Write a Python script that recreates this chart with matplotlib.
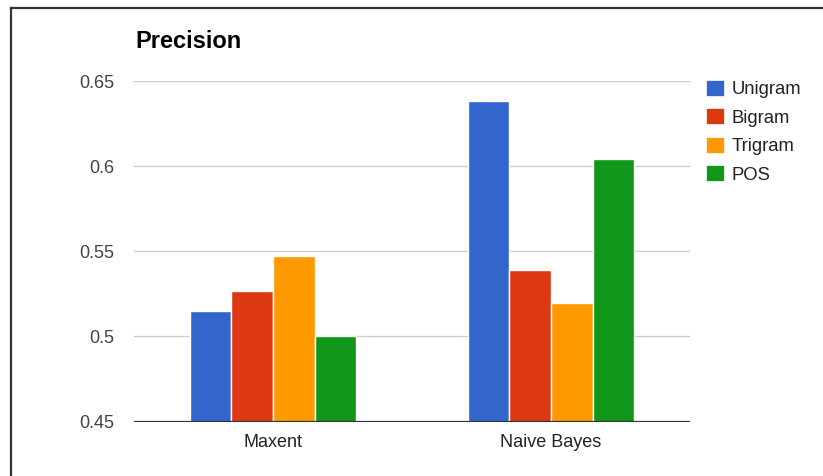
import matplotlib.pyplot as plt
import numpy as np
from matplotlib.lines import Line2D
from matplotlib.patches import Patch

plt.rcParams['font.family'] = ['Liberation Sans', 'DejaVu Sans']

categories = ['Maxent', 'Naive Bayes']
series = ['Unigram', 'Bigram', 'Trigram', 'POS']
colors = ['#3366cc', '#dc3912', '#ff9900', '#109618']
unigram = [0.515, 0.638]
bigram = [0.5265, 0.5388]
trigram = [0.5475, 0.5198]
pos = [0.5, 0.604]
yticks = [0.45, 0.5, 0.55, 0.6, 0.65]
ytick_labels = ['0.45', '0.5', '0.55', '0.6', '0.65']

W, H = 823, 476
fig = plt.figure(figsize=(W / 100, H / 100), dpi=100)
ax = fig.add_axes([134 / W, 1 - 421.5 / H, 556 / W, (421.5 - 81) / H])

xs = np.arange(len(categories))
bw = 0.15
values = [unigram, bigram, trigram, pos]
for i, (vals, c) in enumerate(zip(values, colors)):
    ax.bar(xs + (i - 1.5) * bw, np.array(vals) - 0.45, bw, bottom=0.45,
           color=c, edgecolor='white', linewidth=1, zorder=3)

ax.set_xlim(-0.5, 1.5)
ax.set_ylim(0.45, 0.65)
ax.set_yticks(yticks)
ax.set_yticklabels(ytick_labels)
ax.set_xticks(xs)
ax.set_xticklabels(categories)
for y in yticks[1:]:
    ax.axhline(y, color='#cccccc', linewidth=1, zorder=1)
ax.axhline(0.45, color='#333333', linewidth=1.6, zorder=4)
for s in ax.spines.values():
    s.set_visible(False)
ax.tick_params(axis='y', length=0, pad=14, labelsize=13, labelcolor='#444444')
ax.tick_params(axis='x', length=0, pad=9, labelsize=13, labelcolor='#222222')

fig.text(135 / W, 1 - 41 / H, 'Precision', fontsize=17, fontweight='bold',
         color='#000000', va='center', ha='left')

handles = [Patch(facecolor=c, edgecolor='white', linewidth=0.5) for c in colors]
leg = fig.legend(handles, series, loc='upper left',
                 bbox_to_anchor=(706 / W, 1 - 80 / H), frameon=False,
                 fontsize=13.3, handlelength=0.95, handleheight=0.95,
                 handletextpad=0.45, labelspacing=0.55, borderpad=0,
                 borderaxespad=0)
for t in leg.get_texts():
    t.set_color('#222222')

# frame around the screenshot (top and left edges)
fig.add_artist(Line2D([10.5 / W, 10.5 / W], [0, 1 - 7.5 / H], color='#333333',
                      linewidth=1.6, transform=fig.transFigure))
fig.add_artist(Line2D([10.5 / W, 1], [1 - 7.5 / H, 1 - 7.5 / H], color='#333333',
                      linewidth=1.6, transform=fig.transFigure))

fig.savefig('out.png', dpi=100)
